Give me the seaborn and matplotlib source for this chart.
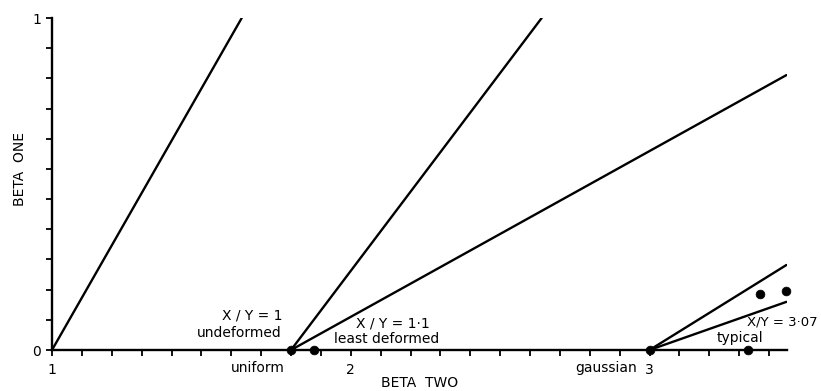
import matplotlib
matplotlib.use("Agg")
import matplotlib.pyplot as plt
import seaborn as sns
import pandas as pd
import numpy as np

# ---- data ----
line_ids = ["X/Y=1", "X/Y=1.1 a", "X/Y=1.1 b", "X/Y=3.07 a", "X/Y=3.07 b"]
line_start_x = [1.0, 1.8, 1.8, 3.0, 3.0]
line_start_y = [0.0, 0.0, 0.0, 0.0, 0.0]
line_end_x = [1.635, 2.639, 3.458, 3.458, 3.458]
line_end_y = [1.0, 1.0, 0.828, 0.256, 0.145]

point_x = [1.8, 1.876, 3.0, 3.331, 3.371, 3.458]
point_y = [0.0, 0.0, 0.0, 0.0, 0.169, 0.178]

x_major = [1, 2, 3]
x_major_labels = ["1", "2", "3"]
y_major = [0, 1]
y_major_labels = ["0", "1"]

sns.set_theme(style="ticks")
plt.rcParams['font.family'] = ['DejaVu Sans']
plt.rcParams['text.color'] = 'black'
plt.rcParams['axes.labelcolor'] = 'black'

rows = []
for lid, x0, y0, x1, y1 in zip(line_ids, line_start_x, line_start_y, line_end_x, line_end_y):
    rows.append({"line": lid, "beta2": x0, "beta1": y0, "end": 0})
    rows.append({"line": lid, "beta2": x1, "beta1": y1, "end": 1})
df = pd.DataFrame(rows)
pts = pd.DataFrame({"beta2": point_x, "beta1": point_y})

fig = plt.figure(figsize=(8.21, 3.91), dpi=100)
ax = fig.add_axes([52/821, 41/391, (787-52)/821, (350-18)/391])

sns.lineplot(data=df, x="beta2", y="beta1", units="line", estimator=None,
             sort=False, color="black", lw=1.7, ax=ax, legend=False)
sns.scatterplot(data=pts, x="beta2", y="beta1", color="black", s=40,
                edgecolor="black", ax=ax, clip_on=False, zorder=5, legend=False)

ax.set_xlim(1, 3.46)
ax.set_ylim(0, 1)
for s in ["top", "right"]:
    ax.spines[s].set_visible(False)
for s in ["left", "bottom"]:
    ax.spines[s].set_linewidth(1.7)
    ax.spines[s].set_color("black")

ax.set_xticks(x_major)
ax.set_xticklabels(x_major_labels)
ax.set_xticks([v for v in np.arange(1.1, 3.46, 0.1) if abs(v - round(v)) > 1e-6], minor=True)
ax.set_yticks(y_major)
ax.set_yticklabels(y_major_labels)
ax.set_yticks([k / 11 for k in range(1, 11)], minor=True)
ax.tick_params(which="both", direction="out", length=4, width=1.3, color="black",
               labelsize=10, labelcolor="black")
ax.tick_params(axis="x", which="both", pad=5)
ax.tick_params(axis="y", which="both", pad=4)

ax.set_xlabel("BETA  TWO", fontsize=10, color="black", va="center")
ax.xaxis.set_label_coords(0.5, -0.099)
ax.set_ylabel("BETA  ONE", fontsize=10, color="black")
ax.yaxis.set_label_coords(-0.034, 0.545)

fs = 10
kw = dict(va="center", color="black")
ax.text(1.669, 0.105, "X / Y = 1", ha="center", fontsize=fs, **kw)
ax.text(1.626, 0.051, "undeformed", ha="center", fontsize=fs, **kw)
ax.text(2.141, 0.081, "X / Y = 1·1", ha="center", fontsize=fs, **kw)
ax.text(2.121, 0.033, "least deformed", ha="center", fontsize=fs, **kw)
ax.text(1.689, -0.054, "uniform", ha="center", fontsize=fs, **kw)
ax.text(2.854, -0.054, "gaussian", ha="center", fontsize=fs, **kw)
ax.text(3.562, 0.084, "X/Y = 3·07", ha="right", fontsize=9.5, clip_on=False, **kw)
ax.text(3.303, 0.036, "typical", ha="center", fontsize=fs, **kw)

fig.savefig("out.png", dpi=100, facecolor="white")
